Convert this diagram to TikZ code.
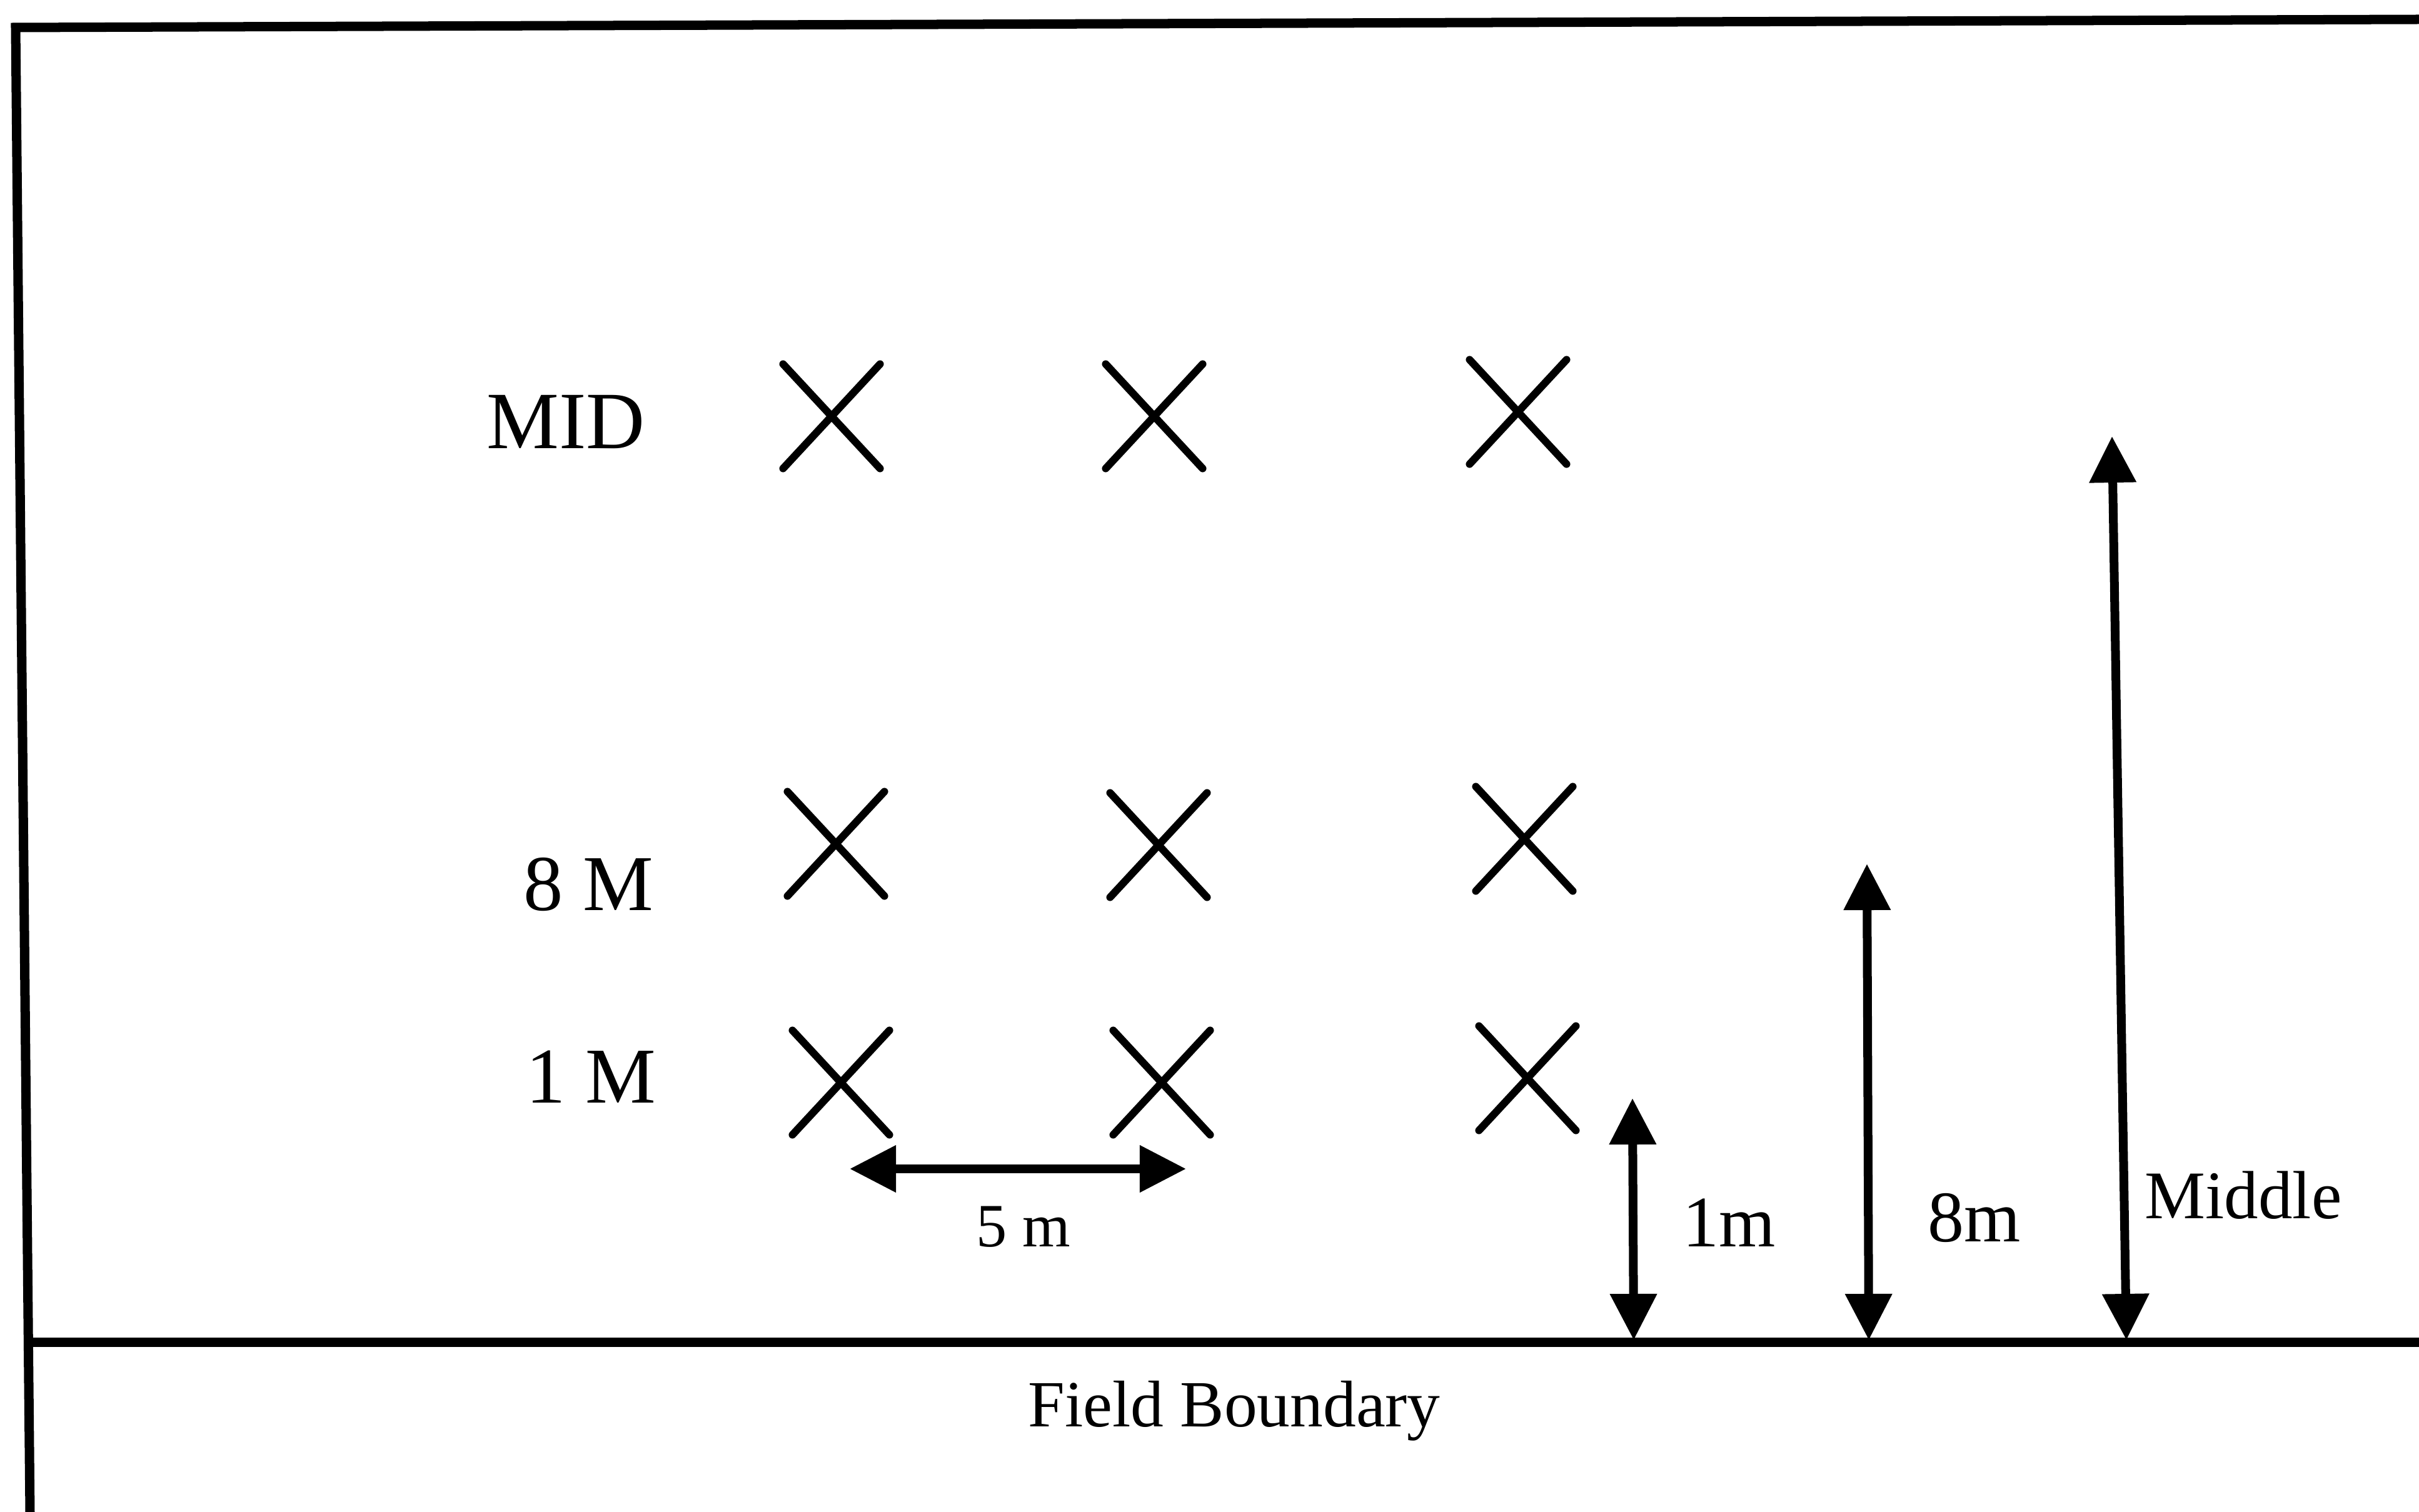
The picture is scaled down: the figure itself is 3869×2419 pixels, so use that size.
\documentclass[tikz,border=0pt]{standalone}
\usepackage{fontspec}
\setmainfont{Liberation Serif}
\usetikzlibrary{arrows.meta,shapes.misc}
\begin{document}
\begin{tikzpicture}[x=0.01cm,y=-0.01cm,
  border/.style={line width=0.15cm, line join=miter},
  xmark/.style={cross out, draw, line width=0.12cm, line cap=round,
    minimum width=1.43cm, minimum height=1.55cm, inner sep=0pt},
  dimarrow/.style={line width=0.14cm,
    {Triangle[length=0.74cm,width=0.72cm]}-{Triangle[length=0.74cm,width=0.72cm]}},
  lbl/.style={anchor=base, inner sep=0pt},
  bigfont/.style={font=\fontsize{37pt}{44pt}\selectfont},
  rowfont/.style={font=\fontsize{36pt}{43pt}\selectfont},
  dimfont/.style={font=\fontsize{33pt}{40pt}\selectfont},
  smallfont/.style={font=\fontsize{28pt}{34pt}\selectfont},
  midfont/.style={font=\fontsize{31pt}{37pt}\selectfont},
  fieldfont/.style={font=\fontsize{30pt}{36pt}\selectfont},
]
\useasboundingbox (0,0) rectangle (3869,2419);
% borders
\coordinate (bl) at (48,2419);
\coordinate (tl) at (25,44);
\coordinate (tr) at (3869,31);
\draw[border] (bl) -- (tl) -- (tr);
\coordinate (fbl) at (44,2147);
\coordinate (fbr) at (3869,2147);
\draw[border] (fbl) -- (fbr);
% row labels
\node[lbl, bigfont] (lmid) at (905,718) {MID};
\node[lbl, rowfont] (l8) at (941,1456) {8 M};
\node[lbl, rowfont] (l1) at (945,1764) {1 M};
% crosses
\node[xmark] (x11) at (1330,666) {};
\node[xmark] (x12) at (1846,666) {};
\node[xmark] (x13) at (2428,659) {};
\node[xmark] (x21) at (1337,1350) {};
\node[xmark] (x22) at (1853,1352) {};
\node[xmark] (x23) at (2438,1342) {};
\node[xmark] (x31) at (1345,1732) {};
\node[xmark] (x32) at (1858,1732) {};
\node[xmark] (x33) at (2443,1725) {};
% 5 m spacing arrow
\coordinate (h1) at (1359,1870);
\coordinate (h2) at (1897,1870);
\draw[dimarrow] (h1) -- (h2);
\node[lbl, smallfont] (t5) at (1637,1994) {5 m};
% distance arrows
\coordinate (a1t) at (2611,1757);
\coordinate (a1b) at (2613,2144);
\draw[dimarrow] (a1t) -- (a1b);
\node[lbl, dimfont] (t1) at (2766,1994) {1m};
\coordinate (a8t) at (2986,1382);
\coordinate (a8b) at (2989,2144);
\draw[dimarrow] (a8t) -- (a8b);
\node[lbl, dimfont] (t8) at (3158,1986) {8m};
\coordinate (amt) at (3378,698);
\coordinate (amb) at (3401,2144);
\draw[dimarrow] (amt) -- (amb);
\node[lbl, midfont] (tm) at (3588,1949) {Middle};
% field boundary label
\node[lbl, fieldfont] (tf) at (1974,2282) {Field Boundary};
\end{tikzpicture}
\end{document}
